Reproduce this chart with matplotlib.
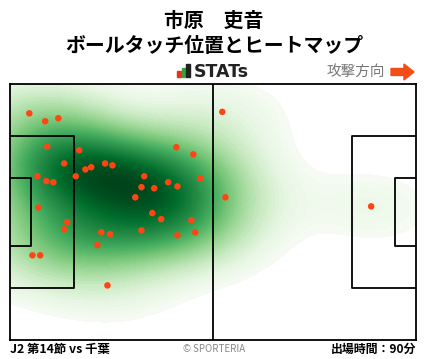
import numpy as np
import matplotlib
matplotlib.use('Agg')
import matplotlib.pyplot as plt
import matplotlib.patches as patches
from matplotlib.colors import ListedColormap
import seaborn as sns

plt.rcParams['font.family'] = ['Noto Sans CJK JP', 'DejaVu Sans']

# ball touch positions (pitch metres, 105 x 68, attacking to the right)
touch_x = [5.0, 9.1, 12.5, 9.6, 17.9, 14.0, 24.6, 26.5, 21.0, 19.5,
           7.1, 9.4, 11.2, 17.0, 43.0, 47.4, 34.7, 40.9, 43.3, 34.0,
           37.3, 49.2, 32.4, 7.3, 36.8, 39.1, 46.9, 14.8, 14.0, 23.6,
           25.9, 34.0, 43.3, 47.9, 22.6, 5.8, 7.8, 25.2, 54.9, 55.7,
           93.4]
touch_y = [60.2, 58.1, 58.9, 51.4, 50.4, 46.9, 46.9, 46.4, 45.9, 45.3,
           43.5, 42.2, 41.9, 43.5, 51.2, 49.3, 43.5, 41.9, 40.8, 40.6,
           40.3, 42.9, 37.9, 35.2, 33.7, 32.1, 31.8, 31.3, 29.4, 28.6,
           28.1, 29.1, 27.8, 28.6, 25.2, 22.5, 22.5, 14.5, 60.6, 37.9,
           35.5]

player = '市原　吏音'
subtitle = 'ボールタッチ位置とヒートマップ'
match_text = 'J2 第14節 vs 千葉'
minutes_text = '出場時間：90分'

W, H = 428, 359
fig = plt.figure(figsize=(W / 100, H / 100), dpi=100)

def fx(px):
    return px / W

def fy(py):
    return 1 - py / H

ax = fig.add_axes([fx(10), fy(340), fx(416) - fx(10), fy(84) - fy(340)])

greens = plt.get_cmap('Greens')
cmap = ListedColormap(greens(np.linspace(0, 1, 256) ** 0.8))

sns.kdeplot(x=touch_x, y=touch_y, fill=True, cmap=cmap, levels=100,
            thresh=0.018, bw_adjust=1.3, gridsize=150,
            clip=((0, 105), (0, 68)), ax=ax, zorder=1)

# pitch lines
lc = 'black'
lw = 1.3
ax.plot([52.5, 52.5], [0, 68], color=lc, lw=lw, zorder=3)
for side in (0, 1):
    if side == 0:
        bx, gx = 16.5, 5.5
        ax.plot([0, bx, bx, 0], [13.84, 13.84, 54.16, 54.16], color=lc, lw=lw, zorder=3)
        ax.plot([0, gx, gx, 0], [24.84, 24.84, 43.16, 43.16], color=lc, lw=lw, zorder=3)
    else:
        bx, gx = 105 - 16.5, 105 - 5.5
        ax.plot([105, bx, bx, 105], [13.84, 13.84, 54.16, 54.16], color=lc, lw=lw, zorder=3)
        ax.plot([105, gx, gx, 105], [24.84, 24.84, 43.16, 43.16], color=lc, lw=lw, zorder=3)

ax.scatter(touch_x, touch_y, s=22, color='#ff4513', edgecolors='none', zorder=4)

ax.set_xlim(0, 105)
ax.set_ylim(0, 68)
ax.set_xticks([])
ax.set_yticks([])
ax.set_xlabel('')
ax.set_ylabel('')
for sp in ax.spines.values():
    sp.set_linewidth(lw)
    sp.set_color(lc)
    sp.set_zorder(5)

# header
fig.text(0.5, fy(20), player, ha='center', va='center', fontsize=14.3, fontweight='bold')
fig.text(0.5, fy(45), subtitle, ha='center', va='center', fontsize=14.3, fontweight='bold')

# STATs logo
for x0, top, c in [(177, 71, '#e8321e'), (181.5, 68, '#3aa03c'), (186, 64, '#222222')]:
    fig.patches.append(patches.Rectangle((fx(x0), fy(77)), fx(3.5), fy(top) - fy(77),
                                         transform=fig.transFigure, color=c))
fig.text(fx(194), fy(72), 'STATs', ha='left', va='center', fontsize=12.5,
         fontweight='bold', family='DejaVu Sans', color='#222222')

fig.text(fx(385), fy(72), '攻撃方向', ha='right', va='center', fontsize=10.5, color='#777777')
arrow = patches.Polygon([(fx(391), fy(68.5)), (fx(404), fy(68.5)), (fx(404), fy(64)),
                         (fx(414), fy(72)), (fx(404), fy(80)), (fx(404), fy(75.5)),
                         (fx(391), fy(75.5))], closed=True, transform=fig.transFigure,
                        color='#f24d16')
fig.patches.append(arrow)

# footer
fig.text(fx(10), fy(349), match_text, ha='left', va='center', fontsize=8.9, fontweight='bold')
fig.text(0.5, fy(349), '© SPORTERIA', ha='center', va='center', fontsize=7, color='#888888')
fig.text(fx(416), fy(349), minutes_text, ha='right', va='center', fontsize=8.6, fontweight='bold')

fig.savefig('out.png', dpi=100)
